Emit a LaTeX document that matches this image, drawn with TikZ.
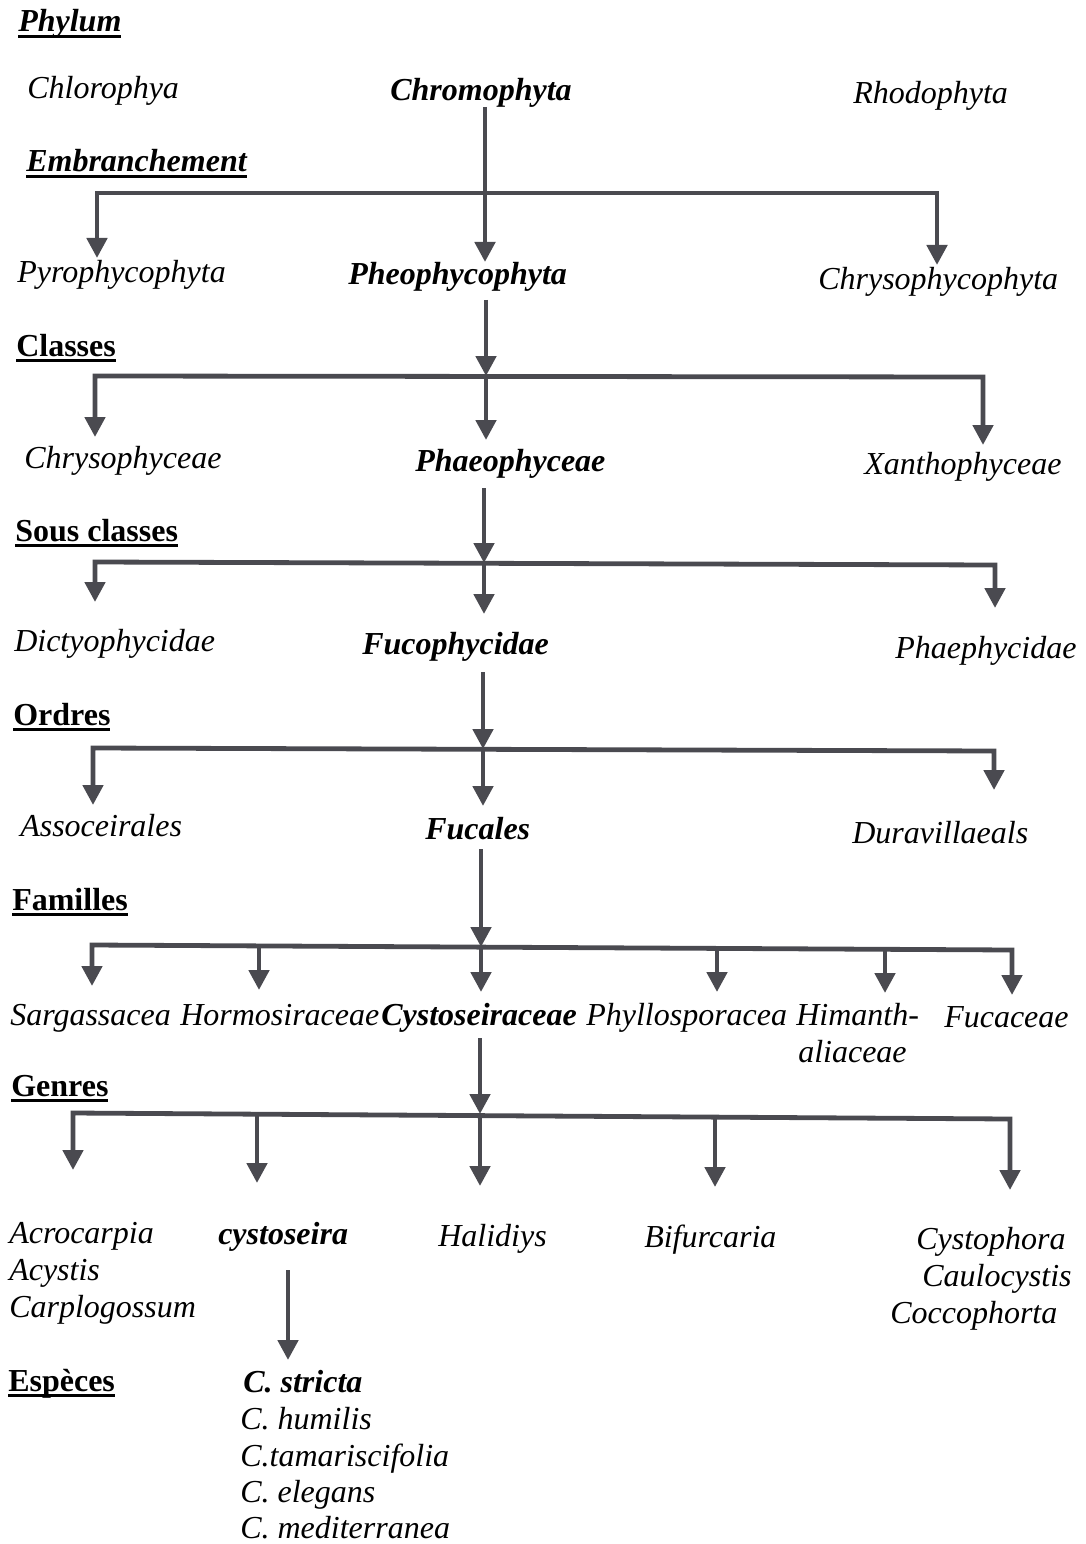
\documentclass[tikz,border=0pt]{standalone}
\usepackage{fontspec}
\setmainfont{Liberation Serif}
\usetikzlibrary{arrows.meta}
\definecolor{linec}{HTML}{4A4A50}
\newcommand\myul[1]{\setbox0\hbox{#1}\rlap{\rule[-4.2pt]{\wd0}{2pt}}\box0}
\begin{document}
\begin{tikzpicture}[x=0.75pt,y=-0.75pt,
 every node/.style={inner sep=0pt, anchor=base west},
 tx/.style={font=\fontsize{24pt}{28pt}\selectfont\itshape},
 bx/.style={font=\fontsize{24pt}{28pt}\selectfont\bfseries\itshape},
 hd/.style={font=\fontsize{24pt}{28pt}\selectfont\bfseries},
 hdi/.style={font=\fontsize{24pt}{28pt}\selectfont\bfseries\itshape},
 conn/.style={draw=linec, line width=3.6pt, line join=miter},
 arr/.style={conn, -{Triangle[width=15pt,length=15pt]}},
 arrb/.style={conn, {Triangle[width=15pt,length=15pt]}-{Triangle[width=15pt,length=15pt]}}]
\useasboundingbox (0,0) rectangle (1085,1544);

% headings
\node[hdi] (hPhylum) at (18,32) {\myul{Phylum}};
\node[hdi] (hEmbr) at (26,172) {\myul{Embranchement}};
\node[hd] (hClasses) at (16,356) {\myul{Classes}};
\node[hd] (hSous) at (15,541) {\myul{Sous classes}};
\node[hd] (hOrdres) at (13,725) {\myul{Ordres}};
\node[hd] (hFam) at (12,910) {\myul{Familles}};
\node[hd] (hGenres) at (11,1096) {\myul{Genres}};
\node[hd] (hEsp) at (8,1391) {\myul{Espèces}};

% phylum
\node[tx] (chloro) at (27,99) {Chlorophya};
\node[bx] (chromo) at (390,101) {Chromophyta};
\node[tx] (rhodo) at (853,104) {Rhodophyta};
% embranchement
\node[tx] (pyro) at (17,283) {Pyrophycophyta};
\node[bx] (pheo) at (348,285) {Pheophycophyta};
\node[tx] (chrysop) at (818,290) {Chrysophycophyta};
% classes
\node[tx] (chrysoc) at (24,468) {Chrysophyceae};
\node[bx] (phaeo) at (415,471) {Phaeophyceae};
\node[tx] (xantho) at (864,474) {Xanthophyceae};
% sous classes
\node[tx] (dictyo) at (14,651) {Dictyophycidae};
\node[bx] (fuco) at (362,654) {Fucophycidae};
\node[tx] (phaephy) at (895,658) {Phaephycidae};
% ordres
\node[tx] (assoc) at (20,836) {Assoceirales};
\node[bx] (fucales) at (425,839) {Fucales};
\node[tx] (durav) at (852,843) {Duravillaeals};
% familles
\node[tx] (sargas) at (10,1025) {Sargassacea};
\node[tx] (hormo) at (180,1025) {Hormosiraceae};
\node[bx] (cystoc) at (381,1025) {Cystoseiraceae};
\node[tx] (phyllo) at (586,1025) {Phyllosporacea};
\node[tx] (himan) at (796,1025) {Himanth-};
\node[tx] (himan2) at (798,1062) {aliaceae};
\node[tx] (fucac) at (944,1027) {Fucaceae};
% genres
\node[tx] (acro) at (9,1243) {Acrocarpia};
\node[tx] (acys) at (9,1280) {Acystis};
\node[tx] (carp) at (9,1317) {Carplogossum};
\node[bx] (cysto) at (218,1244) {cystoseira};
\node[tx] (halid) at (438,1246) {Halidiys};
\node[tx] (bifur) at (644,1247) {Bifurcaria};
\node[tx] (cystoph) at (916,1249) {Cystophora};
\node[tx] (caulo) at (922,1286) {Caulocystis};
\node[tx] (cocco) at (890,1323) {Coccophorta};
% especes
\node[bx] (strict) at (243,1392) {C. stricta};
\node[tx] (humil) at (240,1429) {C. humilis};
\node[tx] (tamar) at (240,1466) {C.tamariscifolia};
\node[tx] (elegs) at (240,1502) {C. elegans};
\node[tx] (medit) at (240,1538) {C. mediterranea};

% level 1
\coordinate (a1s) at (485,107); \coordinate (a1t) at (485,262);
\coordinate (b1lt) at (97,258); \coordinate (b1l) at (97,193);
\coordinate (b1r) at (937,193); \coordinate (b1rt) at (937,265);
\draw[arr] (a1s) -- (a1t);
\draw[arrb] (b1lt) -- (b1l) -- (b1r) -- (b1rt);
% level 2
\coordinate (a2s) at (486,300); \coordinate (a2b) at (486,376);
\coordinate (a2t) at (486,440);
\coordinate (b2lt) at (95,437); \coordinate (b2l) at (95,376);
\coordinate (b2r) at (983,377); \coordinate (b2rt) at (983,445);
\draw[arr] (a2s) -- (a2b);
\draw[arr] (a2b) -- (a2t);
\draw[arrb] (b2lt) -- (b2l) -- (b2r) -- (b2rt);
% level 3
\coordinate (a3s) at (484,488); \coordinate (a3b) at (484,563);
\coordinate (a3t) at (484,614);
\coordinate (b3lt) at (95,602); \coordinate (b3l) at (95,562);
\coordinate (b3r) at (995,565); \coordinate (b3rt) at (995,608);
\draw[arr] (a3s) -- (a3b);
\draw[arr] (a3b) -- (a3t);
\draw[arrb] (b3lt) -- (b3l) -- (b3r) -- (b3rt);
% level 4
\coordinate (a4s) at (483,672); \coordinate (a4b) at (483,749);
\coordinate (a4t) at (483,806);
\coordinate (b4lt) at (93,805); \coordinate (b4l) at (93,748);
\coordinate (b4r) at (994,751); \coordinate (b4rt) at (994,790);
\draw[arr] (a4s) -- (a4b);
\draw[arr] (a4b) -- (a4t);
\draw[arrb] (b4lt) -- (b4l) -- (b4r) -- (b4rt);
% level 5
\coordinate (a5s) at (481,849); \coordinate (a5b) at (481,947);
\coordinate (b5lt) at (92,986); \coordinate (b5l) at (92,945);
\coordinate (b5r) at (1012,950); \coordinate (b5rt) at (1012,995);
\coordinate (m5a) at (259,946); \coordinate (m5at) at (259,990);
\coordinate (m5b) at (481,947); \coordinate (m5bt) at (481,992);
\coordinate (m5c) at (717,948); \coordinate (m5ct) at (717,992);
\coordinate (m5d) at (885,949); \coordinate (m5dt) at (885,993);
\draw[arr] (a5s) -- (a5b);
\draw[arrb] (b5lt) -- (b5l) -- (b5r) -- (b5rt);
\draw[arr] (m5a) -- (m5at);
\draw[arr] (m5b) -- (m5bt);
\draw[arr] (m5c) -- (m5ct);
\draw[arr] (m5d) -- (m5dt);
% level 6
\coordinate (a6s) at (480,1038); \coordinate (a6b) at (480,1114);
\coordinate (b6lt) at (73,1170); \coordinate (b6l) at (73,1113);
\coordinate (b6r) at (1010,1119); \coordinate (b6rt) at (1010,1190);
\coordinate (m6a) at (257,1114); \coordinate (m6at) at (257,1183);
\coordinate (m6b) at (480,1115); \coordinate (m6bt) at (480,1186);
\coordinate (m6c) at (715,1117); \coordinate (m6ct) at (715,1187);
\draw[arr] (a6s) -- (a6b);
\draw[arrb] (b6lt) -- (b6l) -- (b6r) -- (b6rt);
\draw[arr] (m6a) -- (m6at);
\draw[arr] (m6b) -- (m6bt);
\draw[arr] (m6c) -- (m6ct);
% level 7
\coordinate (a7s) at (288,1270); \coordinate (a7t) at (288,1360);
\draw[arr] (a7s) -- (a7t);
\end{tikzpicture}
\end{document}
